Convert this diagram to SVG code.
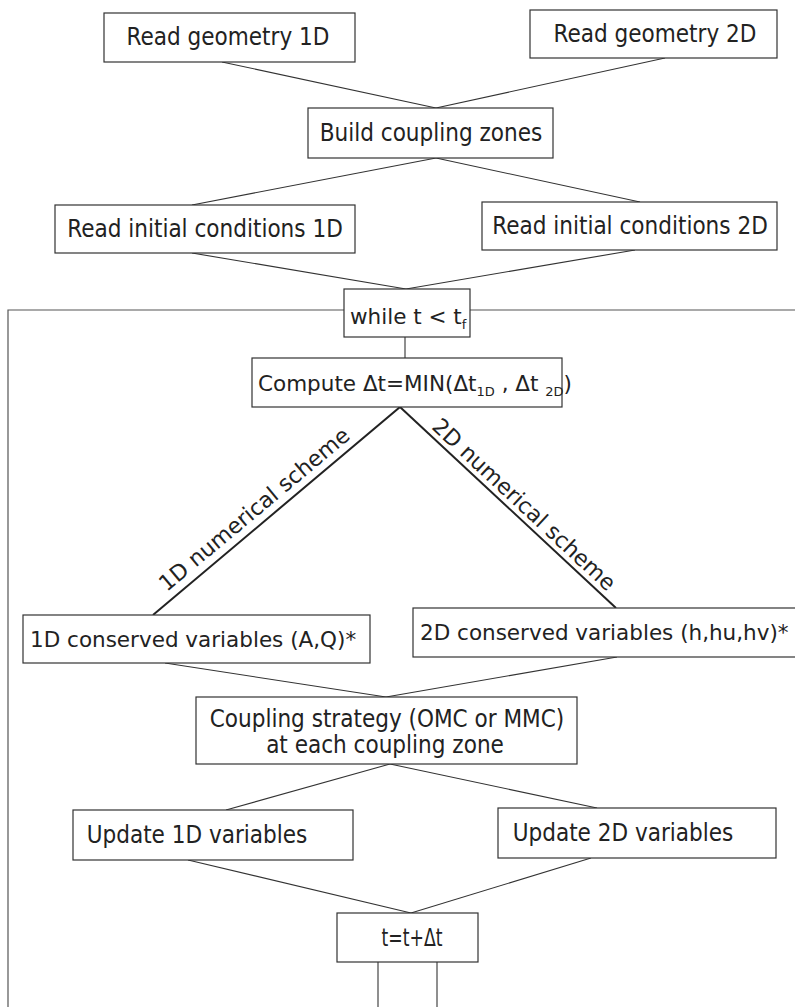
<svg xmlns="http://www.w3.org/2000/svg" width="795" height="1007" viewBox="0 0 795 1007">
  <style>
    .box { fill: #ffffff; stroke: #333333; stroke-width: 1.2; }
    .link { stroke: #333333; stroke-width: 1.1; fill: none; }
    .thick { stroke: #222222; stroke-width: 2; fill: none; }
    .loop { stroke: #555555; stroke-width: 1.2; fill: none; }
    .big { font-family: "DejaVu Sans Condensed", "DejaVu Sans", sans-serif; font-stretch: condensed; font-size: 24px; fill: #222222; }
    .wide { font-family: "DejaVu Sans", sans-serif; font-size: 21.5px; fill: #222222; }
    .label { font-family: "DejaVu Sans", sans-serif; font-size: 22px; fill: #222222; }
    .sub { font-size: 13px; }
  </style>

  <!-- connectors -->
  <g id="connectors">
    <line class="link" x1="222" y1="62" x2="436" y2="108"/>
    <line class="link" x1="665" y1="58" x2="436" y2="108"/>
    <line class="link" x1="436" y1="158" x2="192" y2="205"/>
    <line class="link" x1="436" y1="158" x2="640" y2="202"/>
    <line class="link" x1="192" y1="253" x2="406" y2="289"/>
    <line class="link" x1="635" y1="250" x2="406" y2="289"/>
    <line class="link" x1="405" y1="337" x2="405" y2="358"/>
    <line class="thick" x1="400" y1="407" x2="153" y2="615"/>
    <line class="thick" x1="400" y1="407" x2="616" y2="608"/>
    <line class="link" x1="165" y1="663" x2="386" y2="697"/>
    <line class="link" x1="617" y1="657" x2="386" y2="697"/>
    <line class="link" x1="390" y1="764" x2="226" y2="810"/>
    <line class="link" x1="390" y1="764" x2="597" y2="808"/>
    <line class="link" x1="188" y1="860" x2="411" y2="913"/>
    <line class="link" x1="591" y1="858" x2="411" y2="913"/>
    <line class="link" x1="378" y1="962" x2="378" y2="1007"/>
    <line class="link" x1="437" y1="962" x2="437" y2="1007"/>
    <!-- time loop frame -->
    <polyline class="loop" points="344,310 8,310 8,1007"/>
    <line class="loop" x1="470" y1="310" x2="795" y2="310"/>
    <!-- branch labels -->
    <text class="label" transform="translate(259,515) rotate(-39.9)" text-anchor="middle">1D numerical scheme</text>
    <text class="label" transform="translate(519,510) rotate(42.9)" text-anchor="middle">2D numerical scheme</text>
  </g>

  <g id="read-geometry-1d">
    <rect class="box" x="104" y="13" width="251" height="49"/>
    <text class="big" x="228" y="45" text-anchor="middle">Read geometry 1D</text>
  </g>

  <g id="read-geometry-2d">
    <rect class="box" x="530" y="10" width="247" height="48"/>
    <text class="big" x="655" y="42" text-anchor="middle">Read geometry 2D</text>
  </g>

  <g id="build-coupling-zones">
    <rect class="box" x="308" y="108" width="245" height="50"/>
    <text class="big" x="431" y="141" text-anchor="middle">Build coupling zones</text>
  </g>

  <g id="read-initial-1d">
    <rect class="box" x="55" y="205" width="300" height="48"/>
    <text class="big" x="205" y="237" text-anchor="middle">Read initial conditions 1D</text>
  </g>

  <g id="read-initial-2d">
    <rect class="box" x="482" y="202" width="295" height="48"/>
    <text class="big" x="630" y="234" text-anchor="middle">Read initial conditions 2D</text>
  </g>

  <g id="while-loop">
    <rect class="box" x="344" y="289" width="126" height="48"/>
    <text class="wide" x="350" y="324">while t &lt; t<tspan class="sub" dy="5">f</tspan></text>
  </g>

  <g id="compute-dt">
    <rect class="box" x="252" y="358" width="310" height="49"/>
    <text class="wide" x="258" y="391" font-size="20.5">Compute Δt=MIN(Δt<tspan class="sub" dy="5">1D</tspan><tspan dy="-5"> , Δt </tspan><tspan class="sub" dy="5">2D</tspan><tspan dy="-5">)</tspan></text>
  </g>

  <g id="conserved-1d">
    <rect class="box" x="23" y="615" width="347" height="48"/>
    <text class="wide" x="30" y="647">1D conserved variables (A,Q)*</text>
  </g>

  <g id="conserved-2d">
    <rect class="box" x="413" y="608" width="390" height="49"/>
    <text class="wide" x="420" y="640">2D conserved variables (h,hu,hv)*</text>
  </g>

  <g id="coupling-strategy">
    <rect class="box" x="196" y="697" width="381" height="67"/>
    <text class="big" x="387" y="727" text-anchor="middle">Coupling strategy (OMC or MMC)</text>
    <text class="big" x="385" y="753" text-anchor="middle">at each coupling zone</text>
  </g>

  <g id="update-1d">
    <rect class="box" x="73" y="810" width="280" height="50"/>
    <text class="big" x="197" y="843" text-anchor="middle">Update 1D variables</text>
  </g>

  <g id="update-2d">
    <rect class="box" x="498" y="808" width="278" height="50"/>
    <text class="big" x="623" y="841" text-anchor="middle">Update 2D variables</text>
  </g>

  <g id="advance-time">
    <rect class="box" x="337" y="913" width="141" height="49"/>
    <text class="big" x="412" y="946" text-anchor="middle" textLength="61" lengthAdjust="spacingAndGlyphs">t=t+Δt</text>
  </g>
</svg>
